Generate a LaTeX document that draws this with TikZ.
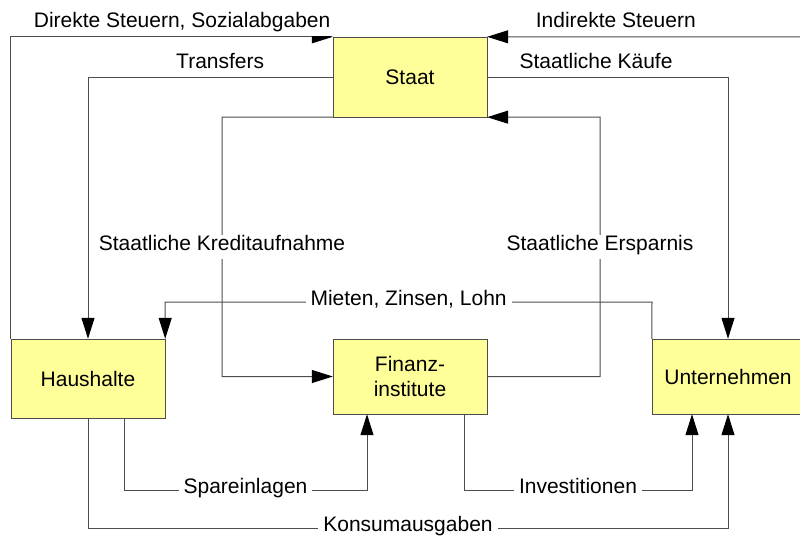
\documentclass[tikz,border=0pt]{standalone}
\usepackage{fontspec}
\setmainfont{Liberation Sans}
\usepackage{tikz}
\usetikzlibrary{arrows.meta}
\definecolor{boxgelb}{HTML}{FFFF99}

\begin{document}
\begin{tikzpicture}[x=1pt, y=-1pt,
    box/.style={draw=black!70, fill=boxgelb, rectangle, minimum width=154pt, align=center, inner sep=0pt, font=\fontsize{21}{25}\selectfont},
    lbl/.style={fill=white, inner xsep=5pt, inner ysep=7pt, text height=0.8em, text depth=0.15em, font=\fontsize{21}{25}\selectfont},
    pfeil/.style={draw=black!70, line width=1pt, -{Triangle[length=21pt, width=13pt, color=black]}}]

    \useasboundingbox (0,0) rectangle (800,543);

    % Sectors
    \node [box, minimum height=80pt] (Staat) at (410,77) {Staat};
    \node [box, minimum height=79pt] (Haushalte) at (88,378.5) {Haushalte};
    \node [box, minimum height=75pt] (Finanz) at (410,376.5) {Finanz-\\institute};
    \node [box, minimum height=75pt, minimum width=152pt] (Unternehmen) at (728,376.5) {Unternehmen};

    % Bend points
    \coordinate (ost) at (812,37); % Indirect taxes enter from the right
    \coordinate (kredit) at (222,117); % Government borrowing
    \coordinate (erspar) at (600,117); % Government saving
    \coordinate (miete) at (652,302); % Rents, interest, wages

    % Flows around Staat
    \draw [pfeil] (Haushalte.north west) |- node[lbl, above, pos=0.766] {Direkte Steuern, Sozialabgaben} (Staat.north west);
    \draw [pfeil] (Staat.west) -| node[lbl, above, pos=0.23] {Transfers} (Haushalte.north);
    \draw [pfeil] (ost) -- node[lbl, above, pos=0.604] {Indirekte Steuern} (Staat.north east);
    \draw [pfeil] (Staat.east) -| node[lbl, above, pos=0.226] {Staatliche Käufe} (Unternehmen.north);

    % Flows through Finanzinstitute
    \draw [pfeil] (Staat.south west) -- (kredit) |- node[lbl, pos=0.25] {Staatliche Kreditaufnahme} (Finanz.west);
    \draw [pfeil] (Finanz.east) -| node[lbl, pos=0.75] {Staatliche Ersparnis} (erspar) -- (Staat.south east);

    % Flows between Haushalte and Unternehmen
    \draw [pfeil] (Unternehmen.north west) -- (miete) -| node[lbl, pos=0.25] {Mieten, Zinsen, Lohn} (Haushalte.north east);
    \draw [pfeil] ([xshift=36pt]Haushalte.south) -- ++(0,72) -| node[lbl, pos=0.25] {Spareinlagen} ([xshift=-43pt]Finanz.south);
    \draw [pfeil] ([xshift=54pt]Finanz.south) -- ++(0,76) -| node[lbl, pos=0.25] {Investitionen} ([xshift=-36pt]Unternehmen.south);
    \draw [pfeil] (Haushalte.south) -- ++(0,110) -| node[lbl, pos=0.25] {Konsumausgaben} (Unternehmen.south);

\end{tikzpicture}
\end{document}
